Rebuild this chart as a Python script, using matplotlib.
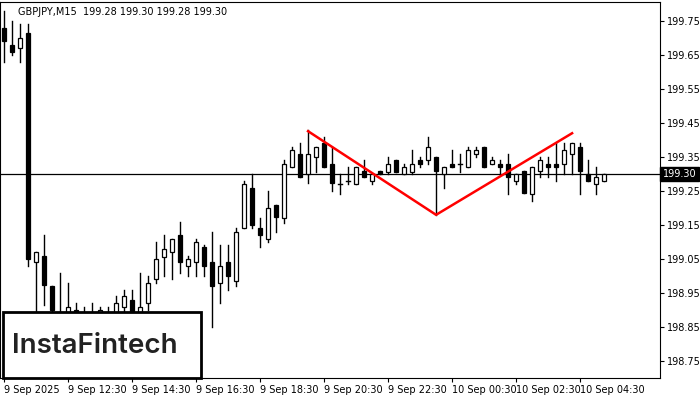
import matplotlib
matplotlib.use("Agg")
import matplotlib.pyplot as plt
from matplotlib.patches import Rectangle

# OHLC per 15-minute bar
opens = [199.73, 199.68, 199.67, 199.715, 199.04, 199.06, 198.97, 198.89, 198.85, 198.90,
         198.82, 198.83, 198.83, 198.89, 198.85, 198.91, 198.93, 198.875, 198.92, 198.99,
         199.055, 199.07, 199.12, 199.03, 199.04, 199.085, 199.04, 198.98, 199.04, 198.985,
         199.14, 199.26, 199.14, 199.11, 199.21, 199.17, 199.32, 199.36, 199.30, 199.35,
         199.39, 199.33, 199.27, 199.28, 199.27, 199.31, 199.28, 199.31, 199.305, 199.34,
         199.30, 199.305, 199.34, 199.34, 199.35, 199.30, 199.33, 199.33, 199.32, 199.36,
         199.38, 199.33, 199.33, 199.33, 199.28, 199.31, 199.24, 199.31, 199.33, 199.33,
         199.33, 199.36, 199.38, 199.30, 199.27, 199.28]
highs = [199.78, 199.75, 199.74, 199.74, 199.07, 199.12, 198.97, 199.01, 198.98, 198.92,
         198.91, 198.92, 198.91, 198.91, 198.94, 198.96, 198.96, 199.01, 199.00, 199.10,
         199.12, 199.11, 199.16, 199.06, 199.11, 199.09, 199.13, 199.09, 199.09, 199.14,
         199.28, 199.30, 199.17, 199.25, 199.21, 199.34, 199.38, 199.39, 199.43, 199.38,
         199.41, 199.38, 199.30, 199.32, 199.32, 199.34, 199.30, 199.31, 199.35, 199.34,
         199.33, 199.37, 199.35, 199.41, 199.35, 199.32, 199.37, 199.36, 199.38, 199.38,
         199.38, 199.35, 199.34, 199.36, 199.30, 199.31, 199.32, 199.35, 199.35, 199.39,
         199.39, 199.39, 199.39, 199.34, 199.32, 199.30]
lows = [199.63, 199.65, 199.63, 199.03, 198.85, 198.915, 198.80, 198.84, 198.81, 198.78,
        198.78, 198.80, 198.82, 198.81, 198.81, 198.85, 198.865, 198.85, 198.90, 198.98,
        199.00, 198.99, 199.01, 199.00, 199.00, 199.00, 198.85, 198.92, 198.96, 198.97,
        199.14, 199.14, 199.085, 199.10, 199.13, 199.155, 199.32, 199.29, 199.275, 199.305,
        199.32, 199.25, 199.24, 199.27, 199.27, 199.29, 199.27, 199.30, 199.30, 199.305,
        199.30, 199.30, 199.32, 199.33, 199.18, 199.26, 199.32, 199.305, 199.32, 199.35,
        199.32, 199.33, 199.30, 199.24, 199.27, 199.245, 199.22, 199.29, 199.29, 199.28,
        199.30, 199.30, 199.24, 199.28, 199.24, 199.28]
closes = [199.69, 199.66, 199.70, 199.05, 199.07, 198.975, 198.90, 198.86, 198.91, 198.80,
          198.84, 198.84, 198.90, 198.835, 198.92, 198.94, 198.885, 198.91, 198.98, 199.05,
          199.08, 199.11, 199.04, 199.05, 199.10, 199.03, 198.97, 199.03, 199.00, 199.13,
          199.27, 199.15, 199.12, 199.20, 199.175, 199.33, 199.37, 199.29, 199.36, 199.38,
          199.32, 199.275, 199.27, 199.28, 199.32, 199.29, 199.30, 199.30, 199.33, 199.305,
          199.32, 199.33, 199.33, 199.38, 199.31, 199.32, 199.32, 199.33, 199.37, 199.37,
          199.32, 199.34, 199.32, 199.29, 199.30, 199.245, 199.32, 199.34, 199.32, 199.32,
          199.37, 199.39, 199.31, 199.28, 199.29, 199.30]

# double top pattern: bar index and price
pattern_bars = [38, 54, 71]
pattern_prices = [199.426, 199.18, 199.42]

current_price = 199.30
yticks = [199.75, 199.65, 199.55, 199.45, 199.35, 199.25, 199.15, 199.05, 198.95, 198.85, 198.75]
xtick_bars = [0, 8, 16, 24, 32, 40, 48, 56, 64, 72]
xtick_labels = ["9 Sep 2025", "9 Sep 12:30", "9 Sep 14:30", "9 Sep 16:30", "9 Sep 18:30",
                "9 Sep 20:30", "9 Sep 22:30", "10 Sep 00:30", "10 Sep 02:30", "10 Sep 04:30"]

fig = plt.figure(figsize=(7, 4), dpi=100)
ax = fig.add_axes([0.0, 0.055, 0.943, 0.94])

for i, (o, h, l, c) in enumerate(zip(opens, highs, lows, closes)):
    ax.plot([i, i], [l, h], color="black", lw=1, zorder=2)
    bottom, top = min(o, c), max(o, c)
    if top - bottom < 0.004:
        ax.plot([i - 0.3, i + 0.3], [o, o], color="black", lw=1, zorder=3)
        continue
    face = "white" if c > o else "black"
    ax.add_patch(Rectangle((i - 0.3, bottom), 0.6, top - bottom, facecolor=face,
                           edgecolor="black", lw=0.9, zorder=3))

ax.axhline(current_price, color="black", lw=0.9, zorder=1)
ax.plot(pattern_bars, pattern_prices, color="red", lw=1.8, zorder=4)

ax.set_xlim(-0.5, 82)
ax.set_ylim(198.70, 199.806)
ax.yaxis.tick_right()
ax.set_yticks(yticks)
ax.set_yticklabels([f"{v:.2f}" for v in yticks], fontsize=7)
ax.set_xticks(xtick_bars)
ax.set_xticklabels(xtick_labels, fontsize=7, ha="left")
ax.tick_params(axis="both", length=3, width=0.8, pad=2)
for s in ax.spines.values():
    s.set_linewidth(0.8)

ax.text(1.004, current_price, f"{current_price:.2f}", transform=ax.get_yaxis_transform(),
        fontsize=7, color="white", va="center", ha="left",
        bbox=dict(boxstyle="square,pad=0.25", facecolor="black", edgecolor="black"))

fig.text(18 / 700, 1 - 12 / 400, "GBPJPY,M15  199.28 199.30 199.28 199.30", fontsize=7, va="center")

fig.patches.append(Rectangle((3 / 700, 22 / 400), 198 / 700, 66 / 400, transform=fig.transFigure,
                             facecolor="white", edgecolor="black", lw=2, zorder=10))
fig.text(95 / 700, 54 / 400, "InstaFintech", fontsize=20, family="Inter", weight="semibold",
         color="#222222", ha="center", va="center", zorder=11)

fig.savefig("out.png", dpi=100)
